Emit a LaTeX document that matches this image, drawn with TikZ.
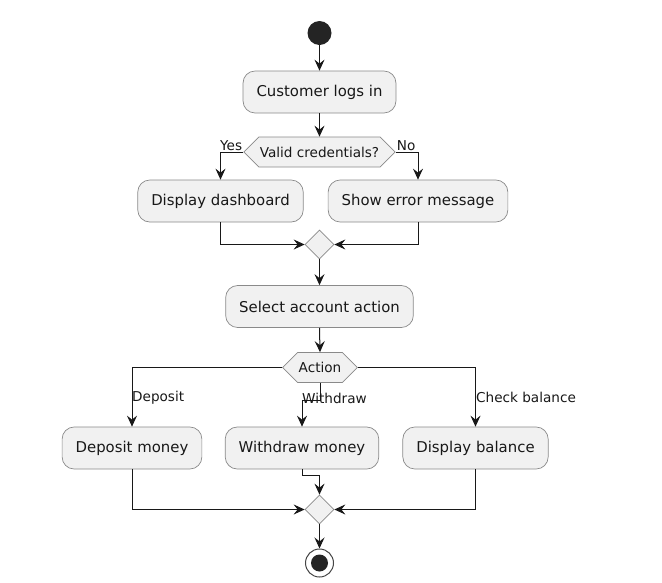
\documentclass[tikz,border=0pt]{standalone}
\usepackage{fontspec}
\setmainfont{DejaVu Sans}
\usetikzlibrary{arrows.meta,shapes.geometric,shapes.symbols}
\definecolor{boxfill}{HTML}{F1F1F1}
\definecolor{boxline}{HTML}{8A8A8A}
\definecolor{ink}{HTML}{181818}
\tikzset{
  act/.style={draw=boxline, line width=0.7pt, fill=boxfill, rounded corners=12pt,
    minimum height=42pt, inner xsep=13.5pt, inner ysep=0pt, text=ink,
    font=\fontsize{14.9}{16}\selectfont},
  hexa/.style={draw=boxline, line width=0.7pt, fill=boxfill, signal, signal to=east and west,
    signal pointer angle=90, minimum height=30pt, inner xsep=1pt, inner ysep=0pt, text=ink,
    font=\fontsize{13.6}{15}\selectfont},
  merge/.style={draw=boxline, line width=0.7pt, fill=boxfill, diamond, inner sep=0pt,
    minimum width=29pt, minimum height=29pt},
  arr/.style={draw=ink, line width=1pt, -{Stealth[length=11pt,width=10pt,inset=4pt]}},
  lbl/.style={text=ink, inner sep=1pt, font=\fontsize{13.6}{15}\selectfont}
}
\begin{document}
\begin{tikzpicture}[x=1pt,y=-1pt]
\useasboundingbox (0,0) rectangle (662,582);
\fill[white] (0,0) rectangle (662,582);

\node[circle, fill=ink!95, minimum size=24pt, inner sep=0pt] (start) at (319.5,33) {};
\node[act] (login) at (319.5,92) {Customer logs in};
\node[hexa] (valid) at (319.5,152) {Valid credentials?};
\node[act] (dash) at (220.5,201) {Display dashboard};
\node[act] (err) at (418,201) {Show error message};
\node[merge] (m1) at (319.5,244.5) {};
\node[act] (select) at (319.5,306.5) {Select account action};
\node[hexa] (action) at (320,367.5) {Action};
\node[act] (dep) at (132,448) {Deposit money};
\node[act] (wd) at (302,448) {Withdraw money};
\node[act] (bal) at (475.5,448) {Display balance};
\node[merge] (m2) at (319.5,509.5) {};
\node[circle, draw=ink!80, line width=1pt, fill=white, minimum size=28pt, inner sep=0pt] (end) at (319.5,563) {};
\node[circle, fill=ink!95, minimum size=17pt, inner sep=0pt] (endin) at (end.center) {};

\draw[arr] (start) -- (login.north);
\draw[arr] (login.south) -- (valid.north);
\draw[arr] (valid.west) -| (dash.north);
\draw[arr] (valid.east) -| (err.north);
\node[lbl, anchor=south east] (yes) at (valid.west) {Yes};
\node[lbl, anchor=south west] (no) at (valid.east) {No};
\draw[arr] (dash.south) |- (m1.west);
\draw[arr] (err.south) |- (m1.east);
\draw[arr] (m1.south) -- (select.north);
\draw[arr] (select.south) -- (action.north);

\draw[arr] (action.west) -| (dep.north);
\draw[arr] (action.south) -- ++(0,18) -| (wd.north);
\draw[arr] (action.east) -| (bal.north);
\node[lbl, anchor=west] (ldep) at (131,397.5) {Deposit};
\node[lbl, anchor=west] (lwd) at (301,398.5) {Withdraw};
\node[lbl, anchor=west] (lbal) at (475,397.5) {Check balance};

\draw[arr] (dep.south) |- (m2.west);
\draw[arr] (bal.south) |- (m2.east);
\draw[arr] (wd.south) -- ++(0,6) -| (m2.north);
\draw[arr] (m2.south) -- (end.north);
\end{tikzpicture}
\end{document}
